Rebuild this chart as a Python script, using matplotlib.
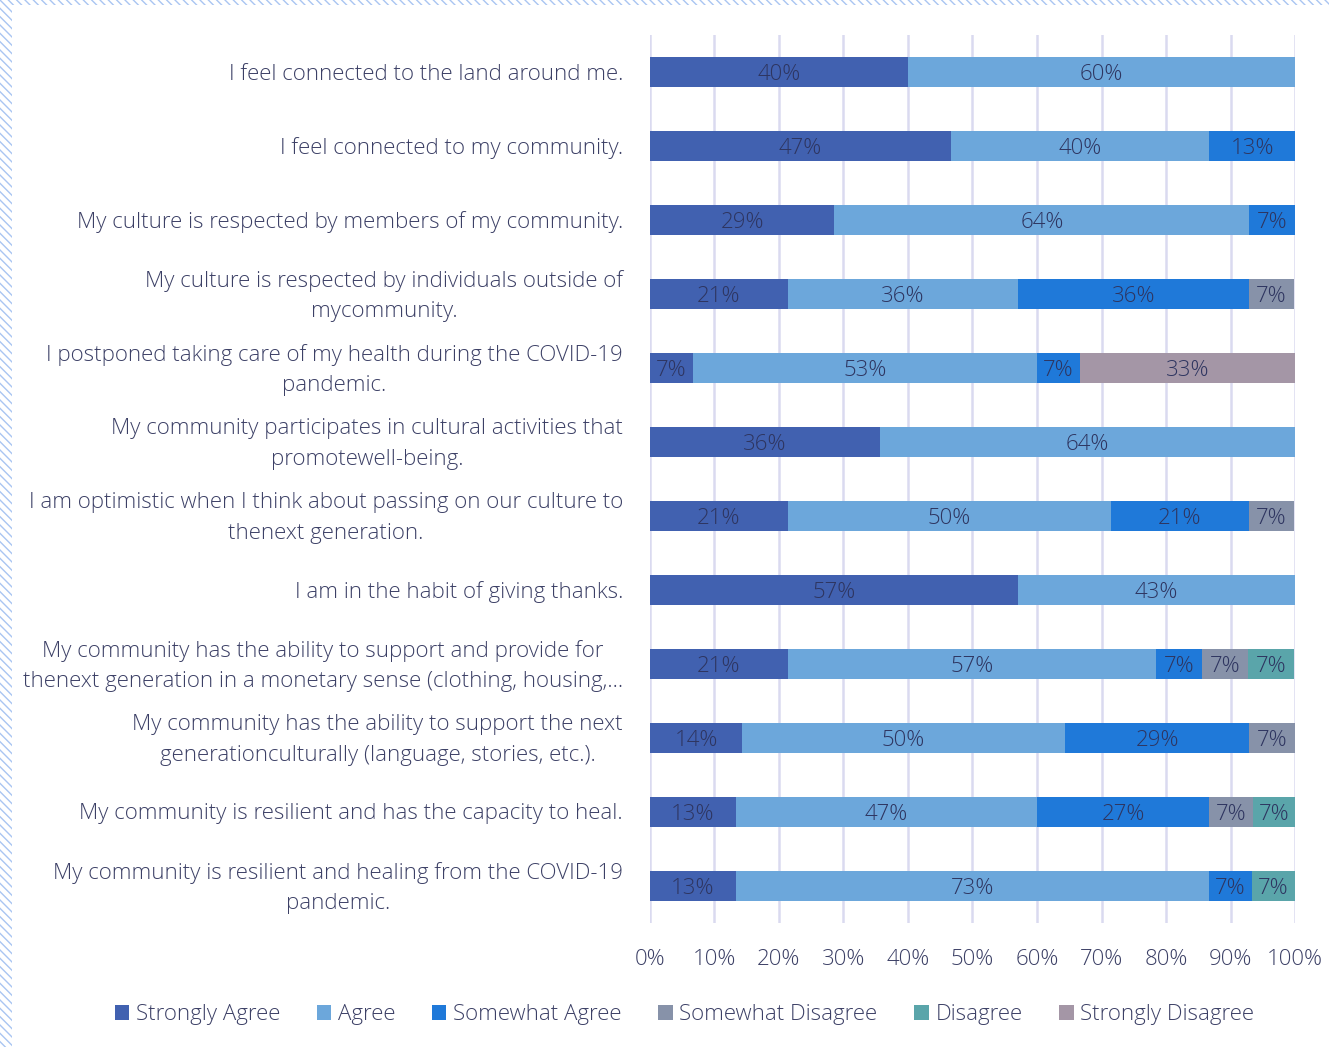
import numpy as np
import matplotlib.pyplot as plt
from matplotlib.patches import Rectangle

plt.rcParams['font.family'] = ['Open Sans', 'DejaVu Sans']

questions = [
    "I feel connected to the land around me.",
    "I feel connected to my community.",
    "My culture is respected by members of my community.",
    "My culture is respected by individuals outside of\nmycommunity.",
    "I postponed taking care of my health during the COVID-19\npandemic.",
    "My community participates in cultural activities that\npromotewell-being.",
    "I am optimistic when I think about passing on our culture to\nthenext generation.",
    "I am in the habit of giving thanks.",
    "My community has the ability to support and provide for\nthenext generation in a monetary sense (clothing, housing,...",
    "My community has the ability to support the next\ngenerationculturally (language, stories, etc.).",
    "My community is resilient and has the capacity to heal.",
    "My community is resilient and healing from the COVID-19\npandemic.",
]

categories = ["Strongly Agree", "Agree", "Somewhat Agree",
              "Somewhat Disagree", "Disagree", "Strongly Disagree"]

strongly_agree    = [40.0, 46.7, 28.6, 21.4, 6.7, 35.7, 21.4, 57.1, 21.4, 14.3, 13.3, 13.3]
agree             = [60.0, 40.0, 64.3, 35.7, 53.3, 64.3, 50.0, 42.9, 57.1, 50.0, 46.7, 73.3]
somewhat_agree    = [0, 13.3, 7.1, 35.7, 6.7, 0, 21.4, 0, 7.1, 28.6, 26.7, 6.7]
somewhat_disagree = [0, 0, 0, 7.1, 0, 0, 7.1, 0, 7.1, 7.1, 6.7, 0]
disagree          = [0, 0, 0, 0, 0, 0, 0, 0, 7.1, 0, 6.7, 6.7]
strongly_disagree = [0, 0, 0, 0, 33.3, 0, 0, 0, 0, 0, 0, 0]

series = [strongly_agree, agree, somewhat_agree,
          somewhat_disagree, disagree, strongly_disagree]
colors = ['#4161b0', '#6ca7db', '#1f79d9', '#8792a9', '#5aa5aa', '#a496a6']

text_color = '#3c4066'
label_color = '#2e3560'

fig = plt.figure(figsize=(13.29, 10.47), dpi=100)
ax = fig.add_axes([0.489, 0.1185, 0.4855, 0.848])

y = np.arange(len(questions))
left = np.zeros(len(questions))
for name, vals, col in zip(categories, series, colors):
    vals = np.array(vals, dtype=float)
    bars = ax.barh(y, vals, left=left, height=0.41, color=col, label=name,
                   edgecolor='none', zorder=3)
    for b, v in zip(bars, vals):
        if v > 0:
            ax.text(b.get_x() + b.get_width() / 2, b.get_y() + b.get_height() / 2,
                    f"{v:.0f}%", ha='center', va='center_baseline', fontsize=16,
                    color=label_color, fontweight='light', zorder=4)
    left += vals

ax.set_xlim(0, 100)
ax.set_ylim(len(questions) - 0.5, -0.5)
ax.set_xticks(np.arange(0, 101, 10))
ax.set_xticklabels([f"{t}%" for t in range(0, 101, 10)])
ax.set_yticks(y)
ax.set_yticklabels([])
ax.tick_params(axis='both', length=0, labelsize=16, labelcolor=text_color)
ax.tick_params(axis='x', pad=19)
for lab in ax.get_xticklabels():
    lab.set_fontweight('light')

# question labels, placed beside each bar
for i, q in enumerate(questions):
    ax.annotate(q, xy=(0, i), xycoords=('axes fraction', 'data'),
                xytext=(-27, -2), textcoords='offset pixels',
                ha='right', va='center', multialignment='center', linespacing=1.6,
                fontsize=16, color=text_color, fontweight='light')

ax.grid(axis='x', color='#dadaf0', linewidth=1.8, zorder=0)
for s in ax.spines.values():
    s.set_visible(False)

leg = fig.legend(loc='center', bbox_to_anchor=(0.515, 0.031), ncol=6, frameon=False,
                 fontsize=16, handlelength=0.65, handleheight=0.65, handletextpad=0.3,
                 columnspacing=1.65)
for t in leg.get_texts():
    t.set_color(text_color)
    t.set_fontweight('light')

# hatched frame strips on the left and top edges
fig.patches.append(Rectangle((0, 0), 0.009, 1, transform=fig.transFigure,
                             facecolor='white', edgecolor='#a9c5f2', hatch='\\\\\\\\',
                             linewidth=0))
fig.patches.append(Rectangle((0, 0.995), 1, 0.005, transform=fig.transFigure,
                             facecolor='white', edgecolor='#a9c5f2', hatch='\\\\\\\\',
                             linewidth=0))

fig.savefig('out.png', dpi=100)
